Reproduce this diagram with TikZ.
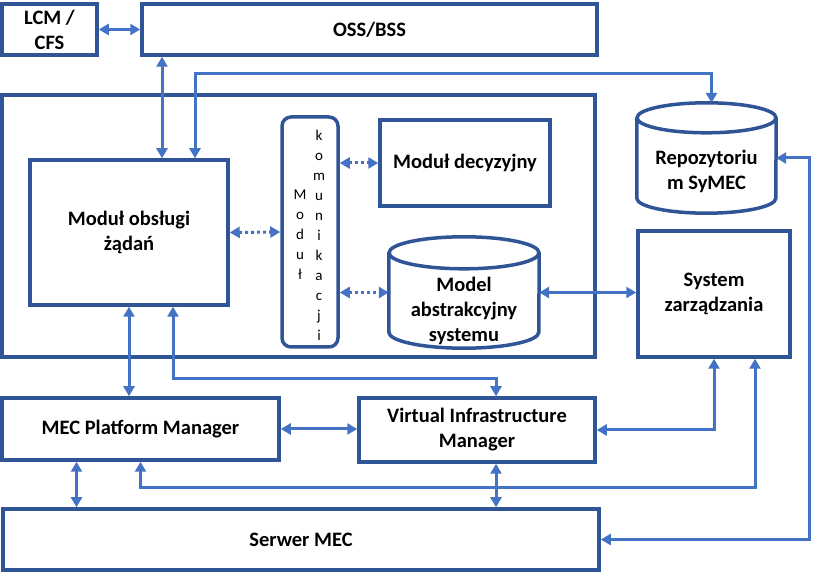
\documentclass[tikz,border=0pt]{standalone}
\usepackage{fontspec}
\setmainfont{Carlito}
\usepackage{tikz}
\usetikzlibrary{calc,arrows.meta}
\definecolor{boxblue}{HTML}{2F5597}
\definecolor{linkblue}{HTML}{4472C4}
\def\modbox{\node[draw=boxblue, line width=3.5pt, inner sep=0pt, align=center, font=\bfseries\fontsize{20.5}{25}\selectfont]}
\def\drumnode{\node[inner sep=0pt]}
\def\drumtext{\node[inner sep=0pt, align=center, font=\bfseries\fontsize{20.5}{25}\selectfont]}
\def\drawlink{\draw[color=linkblue, line width=3pt, {Triangle[length=10pt,width=11pt]}-{Triangle[length=10pt,width=11pt]}]}
\newcommand\drumline[3]{% node, half width, end radius
  \draw[boxblue, line width=3.5pt] ($ (#1.north) - (0,#3) $) ellipse [x radius=#2, y radius=#3];
  \draw[boxblue, line width=3.5pt] ($ (#1.north west) - (0,#3) $) -- ($ (#1.south west) + (0,#3) $)
    arc[start angle=180, end angle=360, x radius=#2, y radius=#3] -- ($ (#1.north east) - (0,#3) $);}

\begin{document}
\begin{tikzpicture}[x=1pt,y=1pt]
\useasboundingbox (0,0) rectangle (814,573);

% Top row
\modbox[minimum width=95, minimum height=51] (lcm) at (49.5,543.5) {LCM /\\CFS};
\modbox[minimum width=455, minimum height=51] (oss) at (369.5,543.5) {OSS/BSS};

% The core block and its modules
\modbox[minimum width=593, minimum height=262] (core) at (298.5,347) {};
\modbox[minimum width=198, minimum height=145] (obs) at (129,340.5) {Moduł obsługi\\żądań};
\modbox[minimum width=56, minimum height=230, rounded corners=9pt] (kom) at (310,341) {};
\node[align=center, font=\fontsize{15}{20}\selectfont] (komleft) at ($ (kom.center) + (-10,-3) $) {M\\o\\d\\u\\ł};
\node[align=center, font=\fontsize{15}{20}\selectfont] (komright) at ($ (kom.center) + (9,-3) $) {k\\o\\m\\u\\n\\i\\k\\a\\c\\j\\i};
\modbox[minimum width=170, minimum height=86] (dec) at (465,410) {Moduł decyzyjny};
\drumnode[minimum width=150, minimum height=111] (model) at (464,280.5) {};
\drumline{model}{75}{16}
\drumtext (modeltext) at ($ (model.center) + (0,-18) $) {Model\\abstrakcyjny\\systemu};

% Right column
\drumnode[minimum width=139, minimum height=110] (repo) at (706.5,415) {};
\drumline{repo}{69.5}{15}
\drumtext (repotext) at ($ (repo.center) + (0,-13) $) {Repozytoriu\\m SyMEC};
\modbox[minimum width=152, minimum height=126] (sz) at (714,279) {System\\zarządzania};

% Managers and server
\modbox[minimum width=277, minimum height=62] (mpm) at (140.5,144) {MEC Platform Manager};
\modbox[minimum width=236, minimum height=64] (vim) at (477,143) {Virtual Infrastructure\\Manager};
\modbox[minimum width=596, minimum height=61] (srv) at (301,33.5) {Serwer MEC};

% Link end points
\coordinate (obsup) at ($ (obs.north) + (33,0) $);
\coordinate (mpmdown) at ($ (mpm.south) + (-64,0) $);
\coordinate (vimdown) at ($ (vim.south) + (19,0) $);

% Links
\drawlink (lcm.east) to (oss.west);
\drawlink (obsup) to (obsup |- oss.south);
\drawlink ($ (obs.north) + (66,0) $) -- ++(0,85) -| ($ (repo.north) + (5,0) $);
\drawlink[dash pattern=on 3pt off 3pt] (obs.east) to (kom.west);
\drawlink[dash pattern=on 3pt off 3pt] (kom.east |- dec.west) to (dec.west);
\drawlink[dash pattern=on 3pt off 3pt] (kom.east |- model.west) to (model.west);
\drawlink (model.east) to (sz.west |- model.east);
\drawlink (obs.south) to (obs.south |- mpm.north);
\drawlink ($ (obs.south) + (44,0) $) -- ++(0,-72) -| ($ (vim.north) + (19,0) $);
\drawlink (mpm.east) to (vim.west |- mpm.east);
\drawlink (sz.south) |- (vim.east);
\drawlink ($ (sz.south) + (41,0) $) -- ++(0,-129) -| (mpm.south);
\drawlink (mpmdown) to (mpmdown |- srv.north);
\drawlink (vimdown) to (vimdown |- srv.north);
\drawlink (repo.east) -- ++(33,0) |- (srv.east);
\end{tikzpicture}
\end{document}
